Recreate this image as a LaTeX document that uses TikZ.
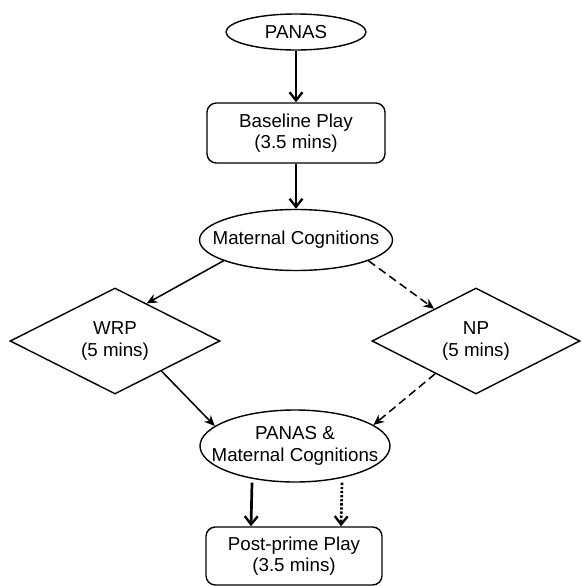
\documentclass[tikz,border=0pt]{standalone}
\usepackage{fontspec}
\setmainfont{Liberation Sans}
\usetikzlibrary{shapes.geometric,arrows.meta,calc}

\begin{document}
\begin{tikzpicture}[x=0.03cm, y=-0.03cm,
	every node/.style={font=\fontsize{16}{18.5}\selectfont, align=center, line width=1.2pt, inner sep=0pt},
	oval/.style={draw, ellipse},
	box/.style={draw, rounded corners=8pt},
	choice/.style={draw, diamond},
	bigarrow/.style={line width=2.3pt, -{Straight Barb[length=7pt,width=11pt,line width=2pt]}},
	arrow/.style={line width=1.3pt, -{Stealth[length=9pt,width=8pt]}}]

	\useasboundingbox (0,0) rectangle (581,586);

	\node [oval, minimum width=140*0.03cm, minimum height=36*0.03cm, label=center:PANAS] (panas) at (296,32) {};
	\node [box, minimum width=178*0.03cm, minimum height=60*0.03cm] (base) at (296,133) {Baseline Play\\(3.5 mins)};
	\node [oval, minimum width=193*0.03cm, minimum height=61*0.03cm, label=center:Maternal Cognitions] (mc) at (296,240) {};
	\node [choice, minimum width=210*0.03cm, minimum height=106*0.03cm, label={[align=center]center:{WRP\\(5 mins)}}] (wrp) at (115,341) {};
	\node [choice, minimum width=208*0.03cm, minimum height=106*0.03cm, label={[align=center]center:{NP\\(5 mins)}}] (np) at (476,341) {};
	\node [oval, minimum width=190*0.03cm, minimum height=72*0.03cm, label={[align=center]center:{PANAS \&\\Maternal Cognitions}}] (pm) at (295,446) {};
	\node [box, minimum width=176*0.03cm, minimum height=58*0.03cm] (post) at (294,556) {Post-prime Play\\(3.5 mins)};

	\draw [bigarrow] (panas) -- (base);
	\draw [bigarrow] (base) -- (mc);

	\draw [arrow] (mc.196) -- ($(wrp.north)!0.3!(wrp.east)$);
	\draw [arrow, dash pattern=on 7pt off 4pt] (mc.-16) -- ($(np.north)!0.4!(np.west)$);
	\draw [arrow] ($(wrp.east)!0.56!(wrp.south)$) -- (pm.166);
	\draw [arrow, dash pattern=on 7pt off 4pt] ($(np.south)!0.39!(np.west)$) -- (pm.15);

	\draw [bigarrow] ([xshift=-1.29cm]pm.south) -- ([xshift=-1.29cm]post.north);
	\draw [bigarrow, dash pattern=on 2pt off 1.5pt] ([xshift=1.41cm]pm.south) -- ([xshift=1.41cm]post.north);
\end{tikzpicture}
\end{document}
